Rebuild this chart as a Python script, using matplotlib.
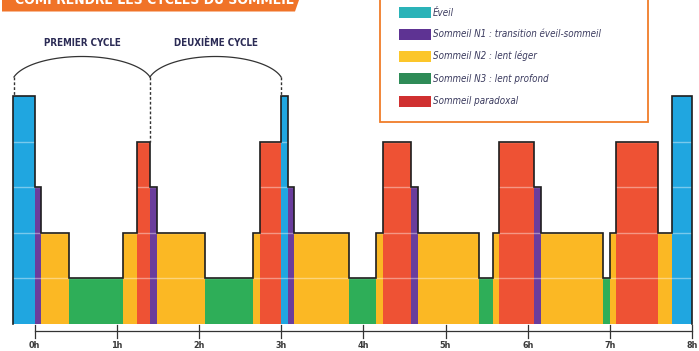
import numpy as np
import matplotlib
matplotlib.use("Agg")
import matplotlib.pyplot as plt
from matplotlib.patches import Rectangle, Polygon

plt.rcParams['font.family'] = ['DejaVu Sans']

# limites des phases (heures) et stade de chaque phase
limites = [-0.26, 0.0, 0.08, 0.42, 1.08, 1.25, 1.41, 1.49, 2.07, 2.66, 2.74,
           3.0, 3.08, 3.16, 3.83, 4.16, 4.24, 4.58, 4.66, 5.41, 5.58, 5.65,
           6.08, 6.16, 6.91, 7.0, 7.08, 7.58, 7.75, 8.0]
stades = ['E', 'N1', 'N2', 'N3', 'N2', 'REM', 'N1', 'N2', 'N3', 'N2',
          'REM', 'E', 'N1', 'N2', 'N3', 'N2', 'REM', 'N1', 'N2', 'N3',
          'N2', 'REM', 'N1', 'N2', 'N3', 'N2', 'REM', 'N2', 'E']
niveaux = {'E': 5, 'REM': 4, 'N1': 3, 'N2': 2, 'N3': 1}
couleurs = {'E': '#20a6e0', 'N1': '#6a3d9c', 'N2': '#fbb824',
            'N3': '#2eae58', 'REM': '#ee5234'}

heures = [0, 1, 2, 3, 4, 5, 6, 7, 8]
etiquettes_h = ['0h', '1h', '2h', '3h', '4h', '5h', '6h', '7h', '8h']

legende_txt = ['Éveil', 'Sommeil N1 : transition éveil-sommeil',
               'Sommeil N2 : lent léger', 'Sommeil N3 : lent profond',
               'Sommeil paradoxal']
legende_col = ['#2ab3b8', '#5e3393', '#fcc62a', '#2e8b57', '#d03030']

cycles = ['PREMIER CYCLE', 'DEUXIÈME CYCLE']
bornes_cycles = [-0.25, 1.405, 3.0]

fig = plt.figure(figsize=(6.99, 3.51), dpi=100)
ax = fig.add_axes([0, 0, 1, 1])
ax.set_xlim(-34.5 / 82.2, (699 - 34.5) / 82.2)
ax.set_ylim(-27 / 45.6, 324 / 45.6)
ax.axis('off')

gauche = np.array(limites[:-1])
largeur = np.diff(limites)
hauteur = [niveaux[s] for s in stades]
ax.bar(gauche, hauteur, width=largeur, align='edge',
       color=[couleurs[s] for s in stades], linewidth=0, zorder=2)

# lignes blanches des niveaux
for lv in [1, 2, 3, 4]:
    ax.axhline(lv, color='white', alpha=0.4, lw=1, zorder=3)

# contour en escalier
xs = [limites[0]]
ys = [0]
for i, h in enumerate(hauteur):
    xs += [limites[i], limites[i + 1]]
    ys += [h, h]
xs.append(limites[-1])
ys.append(0)
ax.plot(xs, ys, color='#1e1e1e', lw=1.2, zorder=4, solid_joinstyle='miter')

# axe du temps
y_axe = -7 / 45.6
ax.plot([heures[0], heures[-1]], [y_axe, y_axe], color='#333333', lw=0.9)
for h, lab in zip(heures, etiquettes_h):
    ax.plot([h, h], [-1 / 45.6, -14 / 45.6], color='#333333', lw=0.9)
    ax.text(h, -22 / 45.6, lab, ha='center', va='center', fontsize=6.5,
            fontweight='bold', color='#3a3a3a', fontstretch='condensed')

# accolades des cycles
y_bout = (324 - 77) / 45.6
y_haut = (324 - 56.5) / 45.6
b = (y_haut - y_bout) / (1 - np.sin(np.radians(15)))
t = np.radians(np.linspace(15, 165, 80))
for i, nom in enumerate(cycles):
    x0, x1 = bornes_cycles[i], bornes_cycles[i + 1]
    cx = (x0 + x1) / 2
    a = (x1 - x0) / 2 / np.cos(np.radians(15))
    ax.plot(cx + a * np.cos(t), y_haut - b + b * np.sin(t), color='#333333', lw=0.9)
    ax.text(cx, (324 - 43) / 45.6, nom, ha='center', va='center', fontsize=7,
            fontweight='bold', color='#2b2b55', fontstretch='condensed')
bas = [5, 4, 5]
for xb, yb in zip(bornes_cycles, bas):
    ax.plot([xb, xb], [y_bout, yb], color='#333333', lw=1, ls=(0, (2, 1.5)), zorder=5)

# calque en pixels pour le bandeau et la légende
ov = fig.add_axes([0, 0, 1, 1], zorder=10)
ov.set_xlim(0, 699)
ov.set_ylim(351, 0)
ov.axis('off')
ov.patch.set_alpha(0)

ov.add_patch(Polygon([(2, -20), (306, -20), (295, 11.5), (2, 11.5)],
                     closed=True, facecolor='#f07328', edgecolor='none'))
ov.text(154, 3.5, 'COMPRENDRE LES CYCLES DU SOMMEIL', ha='center', va='baseline',
        fontsize=10, fontweight='bold', color='white', fontstretch='condensed')

ov.add_patch(Rectangle((380, -10), 268, 131.5, facecolor='white',
                       edgecolor='#f07d2a', lw=1.3))
centres = [12.5, 34, 56, 78.5, 101]
for yc, txt, col in zip(centres, legende_txt, legende_col):
    ov.add_patch(Rectangle((399, yc - 5.5), 32, 11, facecolor=col, edgecolor='none'))
    ov.text(433, yc, txt, ha='left', va='center', fontsize=7, style='italic',
            color='#3a3a5e', fontstretch='condensed')

fig.savefig('out.png', dpi=100)
